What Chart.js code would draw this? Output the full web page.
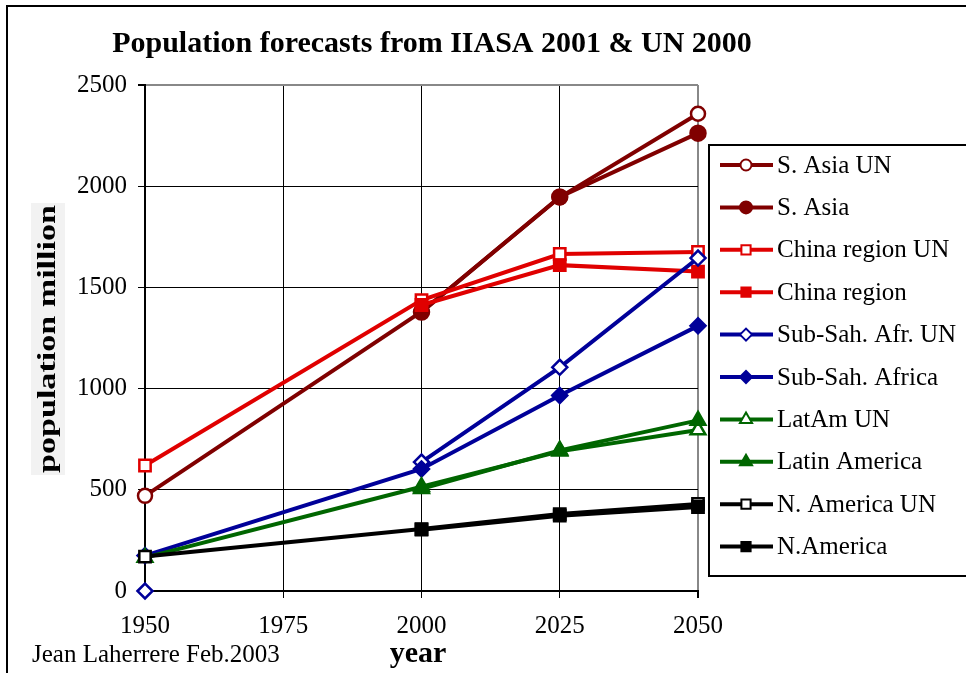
<!DOCTYPE html>
<html>
<head>
<meta charset="utf-8">
<script src="https://cdn.jsdelivr.net/npm/chart.js@4/dist/chart.umd.min.js"></script>
<style>
  body { margin: 0; background: #fff; }
  #chart { display: block; }
</style>
</head>
<body>
<canvas id="chart" width="966" height="673"></canvas>
<script>
// data (million people)
const years = [1950, 2000, 2025, 2050];
const xTicks = [1950, 1975, 2000, 2025, 2050];
const yTicks = [0, 500, 1000, 1500, 2000, 2500];

const sAsiaUN   = [470, 1380, 1945, 2358];
const sAsia     = [null, 1378, 1947, 2262];
const chinaUN   = [620, 1437, 1665, 1675];
const china     = [null, 1413, 1610, 1578];
const subSahUN  = [0, 637, 1105, 1645];
const subSah    = [175, 603, 966, 1310];
const latAmUN   = [165, 515, 690, 795];
const latAm     = [null, 505, 695, 843];
const nAmUN     = [170, 306, 380, 430];
const nAm       = [null, 303, 372, 415];

const FONT = '"Liberation Serif", "Times New Roman", serif';
const DARKRED = '#800000';
const RED = '#e00000';
const NAVY = '#000099';
const GREEN = '#006600';
const BLACK = '#000000';

function points(values) {
    return years.map((x, i) => ({ x: x, y: values[i] }));
}

// one series: open markers are white inside
function series(label, values, color, style, filled, radius) {
    return {
        label: label,
        data: points(values),
        borderColor: color,
        backgroundColor: filled ? color : '#ffffff',
        borderWidth: 4,
        pointStyle: style,
        pointRadius: radius,
        pointBorderWidth: 2.5,
        pointBorderColor: color,
        pointBackgroundColor: filled ? color : '#ffffff',
        tension: 0,
        clip: false
    };
}

const datasets = [
    series('S. Asia UN', sAsiaUN, DARKRED, 'circle', false, 7),
    series('S. Asia', sAsia, DARKRED, 'circle', true, 7.5),
    series('China region UN', chinaUN, RED, 'rect', false, 8),
    series('China region', china, RED, 'rect', true, 8),
    series('Sub-Sah. Afr. UN', subSahUN, NAVY, 'rectRot', false, 7.5),
    series('Sub-Sah. Africa', subSah, NAVY, 'rectRot', true, 7.5),
    series('LatAm UN', latAmUN, GREEN, 'triangle', false, 8.5),
    series('Latin America', latAm, GREEN, 'triangle', true, 8.5),
    series('N. America UN', nAmUN, BLACK, 'rect', false, 8),
    series('N.America', nAm, BLACK, 'rect', true, 8)
];

// the 1950 UN Sub-Saharan marker sits at 0 without a line to 2000
datasets[4].segment = {
    borderColor: ctx => ctx.p0DataIndex === 0 ? 'rgba(0,0,0,0)' : undefined
};

// later series drawn on top, like the original
datasets.forEach((ds, i) => { ds.order = datasets.length - i; });

// titles, legend box and frame
const decorations = {
    id: 'decorations',
    afterDraw(chart) {
        const ctx = chart.ctx;
        ctx.save();

        // frame
        ctx.strokeStyle = '#000';
        ctx.lineWidth = 2;
        ctx.strokeRect(7, 6, 1000, 700);

        // title
        ctx.fillStyle = '#000';
        ctx.font = 'bold 30px ' + FONT;
        ctx.textAlign = 'center';
        ctx.textBaseline = 'middle';
        ctx.fillText('Population forecasts from IIASA 2001 & UN 2000', 432, 44);

        // y title, stretched along its length
        ctx.save();
        ctx.translate(48, 339);
        ctx.rotate(-Math.PI / 2);
        ctx.font = 'bold 25px ' + FONT;
        const yTitle = 'population million';
        const w = ctx.measureText(yTitle).width;
        const sx = 268 / w;
        ctx.fillStyle = '#f2f2f2';
        ctx.fillRect(-136, -17, 272, 34);
        ctx.scale(sx, 1);
        ctx.fillStyle = '#000';
        ctx.fillText(yTitle, 0, 1);
        ctx.restore();

        // x title and author
        ctx.font = 'bold 30px ' + FONT;
        ctx.textAlign = 'center';
        ctx.fillText('year', 418, 654);
        ctx.font = '25px ' + FONT;
        ctx.textAlign = 'left';
        ctx.fillText('Jean Laherrere Feb.2003', 32, 655);

        // legend
        ctx.fillStyle = '#fff';
        ctx.fillRect(709, 145, 300, 431);
        ctx.strokeStyle = '#000';
        ctx.lineWidth = 2;
        ctx.strokeRect(709, 145, 300, 431);

        ctx.font = '25px ' + FONT;
        ctx.textAlign = 'left';
        ctx.textBaseline = 'middle';
        chart.data.datasets.forEach((ds, i) => {
            const y = 165 + i * 42.4;
            ctx.strokeStyle = ds.borderColor;
            ctx.lineWidth = 4;
            ctx.beginPath();
            ctx.moveTo(720, y);
            ctx.lineTo(773, y);
            ctx.stroke();

            ctx.fillStyle = ds.pointBackgroundColor;
            ctx.strokeStyle = ds.pointBorderColor;
            ctx.lineWidth = 2;
            Chart.helpers.drawPoint(ctx, {
                pointStyle: ds.pointStyle,
                radius: ds.pointRadius - 1.5,
                rotation: 0,
                borderWidth: 2
            }, 746, y);

            ctx.fillStyle = '#000';
            ctx.fillText(ds.label, 777, y + 1);
        });

        ctx.restore();
    }
};

new Chart(document.getElementById('chart'), {
    type: 'line',
    data: { datasets: datasets },
    options: {
        responsive: false,
        animation: false,
        layout: { padding: { left: 0, top: 85, right: 268, bottom: 0 } },
        plugins: {
            legend: { display: false },
            title: { display: false },
            tooltip: { enabled: false }
        },
        scales: {
            x: {
                type: 'linear',
                min: 1950,
                max: 2050,
                afterFit: s => { s.height = 82; },
                afterBuildTicks: s => { s.ticks = xTicks.map(v => ({ value: v })); },
                ticks: {
                    color: '#000',
                    font: { family: FONT, size: 25 },
                    padding: 13,
                    maxRotation: 0,
                    callback: v => String(v)
                },
                grid: {
                    color: ctx => ctx.tick && ctx.tick.value === 2050 ? '#888' : '#000',
                    lineWidth: ctx => ctx.tick && ctx.tick.value === 2050 ? 2 : 1,
                    tickColor: '#000',
                    tickLength: 7
                },
                border: { color: '#000', width: 2 }
            },
            y: {
                min: 0,
                max: 2500,
                afterFit: s => { s.width = 145; },
                afterBuildTicks: s => { s.ticks = yTicks.map(v => ({ value: v })); },
                ticks: {
                    color: '#000',
                    font: { family: FONT, size: 25 },
                    padding: 11,
                    callback: v => String(v)
                },
                grid: {
                    color: ctx => ctx.tick && ctx.tick.value === 2500 ? '#888' : '#000',
                    lineWidth: ctx => ctx.tick && ctx.tick.value === 2500 ? 2 : 1,
                    tickColor: '#000',
                    tickLength: 7
                },
                border: { color: '#000', width: 2 }
            }
        }
    },
    plugins: [decorations]
});
</script>
</body>
</html>
